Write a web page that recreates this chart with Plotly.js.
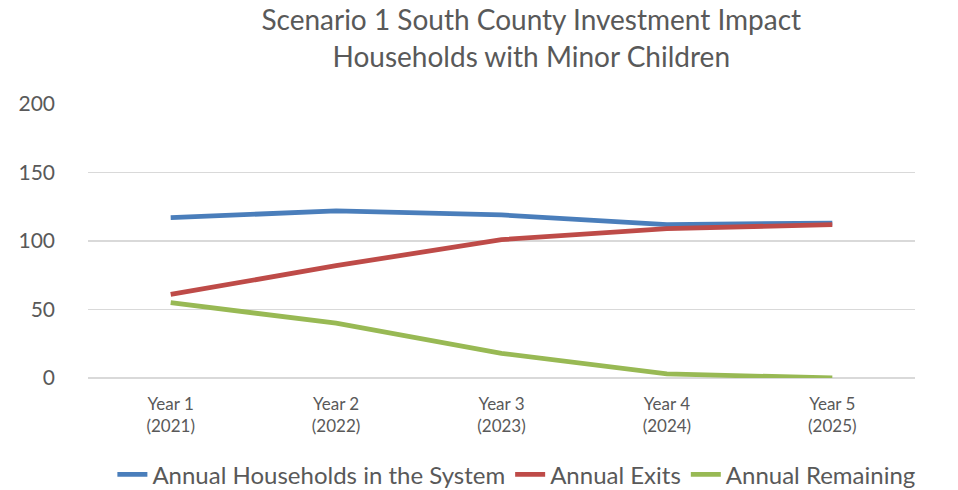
<!DOCTYPE html>
<html>
<head>
<meta charset="utf-8">
<script src="https://cdn.plot.ly/plotly-3.0.1.min.js"></script>
<style>html,body{margin:0;padding:0;background:#fff;}#chart{width:958px;height:490px;}</style>
</head>
<body>
<div id="chart"></div>
<script>
const categories = ["Year 1<br>(2021)", "Year 2<br>(2022)", "Year 3<br>(2023)", "Year 4<br>(2024)", "Year 5<br>(2025)"];
const householdsInSystem = [117, 122, 119, 112, 113];
const annualExits = [61, 82, 101, 109, 112];
const annualRemaining = [55, 40, 18, 3, 0];
const seriesNames = ["Annual Households in the System", "Annual Exits", "Annual Remaining"];

const colors = ["#4a7ebb", "#be4b48", "#98b954"];
const seriesData = [householdsInSystem, annualExits, annualRemaining];
const font = "Lato, 'Open Sans', sans-serif";

const traces = seriesData.map((ys, i) => ({
  type: "scatter",
  mode: "lines",
  x: categories,
  y: ys,
  name: seriesNames[i],
  line: {color: colors[i], width: 4.8}
}));

const layout = {
  width: 958, height: 490,
  margin: {l: 88, r: 43, t: 104, b: 112},
  paper_bgcolor: "#fff", plot_bgcolor: "#fff",
  font: {family: font, color: "#595959"},
  title: {
    text: "Scenario 1 South County Investment Impact<br>Households with Minor Children",
    font: {size: 28, color: "#595959", family: font},
    x: 0.536, xanchor: "center", xref: "paper",
    yref: "container", y: 0.938, yanchor: "middle"
  },
  xaxis: {
    type: "category",
    range: [-0.5, 4.5], automargin: false,
    showgrid: false, zeroline: false, showline: false,
    ticks: "", ticklabelstandoff: 14,
    tickfont: {size: 17, color: "#595959", family: font}
  },
  yaxis: {
    range: [0, 200], tickvals: [0, 50, 100, 150, 200], automargin: false,
    showgrid: true, gridcolor: "#d9d9d9", gridwidth: 1.3,
    zeroline: true, zerolinecolor: "#d9d9d9", zerolinewidth: 1.3,
    showline: false, ticks: "", ticklabelstandoff: 32,
    tickfont: {size: 21, color: "#595959", family: font}
  },
  legend: {
    orientation: "h", x: 0.518, xanchor: "center",
    yref: "container", y: 0.031, yanchor: "middle",
    font: {size: 24, color: "#595959", family: font},
    itemwidth: 30, tracegroupgap: 0
  },
  showlegend: true
};

Plotly.newPlot("chart", traces, layout, {displayModeBar: false, staticPlot: true});
</script>
</body>
</html>
